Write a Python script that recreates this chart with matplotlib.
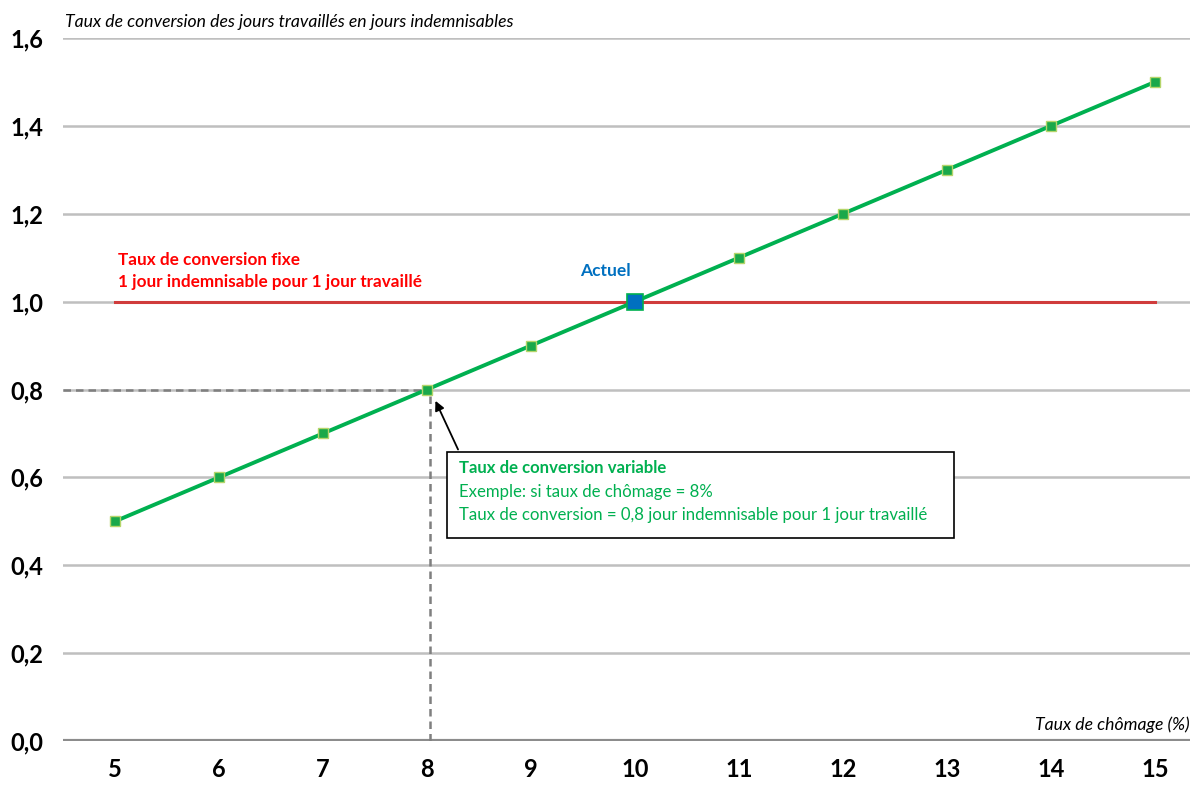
import matplotlib
matplotlib.use("Agg")
import matplotlib.pyplot as plt

plt.rcParams['font.family'] = ['Lato', 'DejaVu Sans']

chomage = [5, 6, 7, 8, 9, 10, 11, 12, 13, 14, 15]
taux_variable = [0.5, 0.6, 0.7, 0.8, 0.9, 1.0, 1.1, 1.2, 1.3, 1.4, 1.5]
taux_fixe = [1.0] * len(chomage)
actuel_x, actuel_y = 10, 1.0
exemple_x, exemple_y = 8, 0.8
yticks = [0.0, 0.2, 0.4, 0.6, 0.8, 1.0, 1.2, 1.4, 1.6]
ytick_labels = ['0,0', '0,2', '0,4', '0,6', '0,8', '1,0', '1,2', '1,4', '1,6']

fig = plt.figure(figsize=(11.95, 7.85), dpi=100)
ax = fig.add_axes([63/1195, 44/785, (1190-63)/1195, 703/785])
ax.set_xlim(4.5, 15.337)
ax.set_ylim(0, 1.6)

for y in yticks[1:]:
    ax.axhline(y, color='#bfbfbf', lw=1.8, zorder=1)
ax.axhline(0, color='#8c8c8c', lw=3, zorder=2)

for s in ax.spines.values():
    s.set_visible(False)

ax.set_yticks(yticks)
ax.set_yticklabels(ytick_labels, fontsize=17, fontweight='bold')
ax.set_xticks(chomage)
ax.set_xticklabels([str(c) for c in chomage], fontsize=17, fontweight='bold')
ax.tick_params(length=0)
ax.tick_params(axis='x', pad=12)
ax.tick_params(axis='y', pad=14)

# dashed guides
ax.plot([4.5, exemple_x], [exemple_y, exemple_y], ls=(0, (3, 2)), color='#7f7f7f', lw=1.8, zorder=3)
ax.plot([exemple_x + 0.03, exemple_x + 0.03], [0, exemple_y], ls=(0, (3, 2)), color='#7f7f7f', lw=1.8, zorder=3)

# fixed rate
ax.plot(chomage, taux_fixe, color='#d03c3c', lw=2.2, zorder=4)

# variable rate
ax.plot(chomage, taux_variable, color='#00b050', lw=2.8, marker='s', ms=6.5,
        markerfacecolor='#1aa84a', markeredgecolor='#b5d56a', markeredgewidth=1, zorder=5)
ax.plot([actuel_x], [actuel_y], marker='s', ms=11, markerfacecolor='#0070c0',
        markeredgecolor='#00b050', markeredgewidth=1.2, ls='none', zorder=6)

ax.text(actuel_x - 0.28, 1.07, 'Actuel', color='#0070c0', fontsize=12.5, fontweight='bold',
        ha='center', va='center')

ax.text(5.03, 1.095, 'Taux de conversion fixe', color='#ff0000', fontsize=12.3,
        fontweight='bold', ha='left', va='center')
ax.text(5.03, 1.045, '1 jour indemnisable pour 1 jour travaillé', color='#ff0000', fontsize=12.3,
        fontweight='bold', ha='left', va='center')

# annotation box
box_x0, box_y0 = 8.192, (741-538)/439.4
box_w, box_h = (955-448)/104, (538-452)/439.4
ax.add_patch(plt.Rectangle((box_x0, box_y0), box_w, box_h, facecolor='white',
                           edgecolor='black', lw=1.2, zorder=7))
tx = 8.31
ax.text(tx, (741-468)/439.4, 'Taux de conversion variable', color='#00b050', fontsize=12.1,
        fontweight='bold', va='center', ha='left', zorder=8)
ax.text(tx, (741-492)/439.4, 'Exemple: si taux de chômage = 8%', color='#00b050', fontsize=12.1,
        va='center', ha='left', zorder=8)
ax.text(tx, (741-515)/439.4, 'Taux de conversion = 0,8 jour indemnisable pour 1 jour travaillé',
        color='#00b050', fontsize=12.1, va='center', ha='left', zorder=8)
ax.annotate('', xy=(8.07, 0.78), xytext=(8.31, (741-452)/439.4),
            arrowprops=dict(arrowstyle='-|>', color='black', lw=1.3, mutation_scale=14), zorder=8)

fig.text(65/1195, 1 - 22/785, 'Taux de conversion des jours travaillés en jours indemnisables',
         fontsize=12.7, style='italic', ha='left', va='center')
fig.text(1190/1195, 1 - 725/785, 'Taux de chômage (%)', fontsize=12.7, style='italic',
         ha='right', va='center')

fig.savefig('out.png', dpi=100)
